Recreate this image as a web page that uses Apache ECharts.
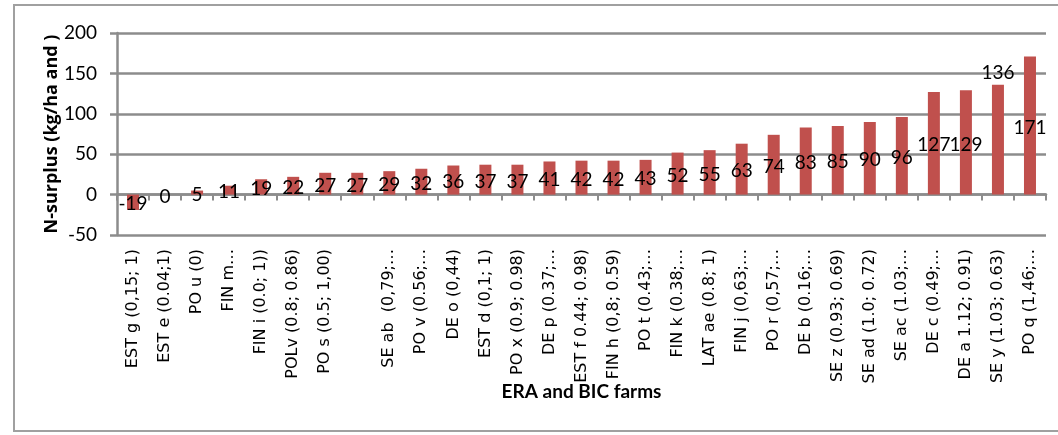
<!DOCTYPE html>
<html>
<head>
<meta charset="utf-8">
<script src="https://cdn.jsdelivr.net/npm/echarts@6/dist/echarts.min.js"></script>
<style>
  html, body { margin: 0; padding: 0; background: #fff; }
  #chart { width: 1058px; height: 435px; }
</style>
</head>
<body>
<div id="chart"></div>
<script>
// Farms (categories) in ascending order of N-surplus
const farms = [
  'EST g (0,15; 1)', 'EST e (0.04;1)', 'PO u (0)', 'FIN m…', 'FIN i (0.0; 1))',
  'POLv (0.8; 0.86)', 'PO s (0.5; 1,00)', '', 'SE ab  (0,79;…', 'PO v (0.56;…',
  'DE o (0,44)', 'EST d (0,1; 1)', 'PO x (0.9; 0.98)', 'DE p (0.37;…', 'EST f 0.44; 0.98)',
  'FIN h (0,8; 0.59)', 'PO t (0.43;…', 'FIN k (0.38;…', 'LAT ae (0.8; 1)', 'FIN j (0,63;…',
  'PO r (0,57;…', 'DE b (0.16;…', 'SE z (0.93; 0.69)', 'SE ad (1.0; 0.72)', 'SE ac (1.03;…',
  'DE c (0.49;…', 'DE a 1.12; 0.91)', 'SE y (1.03; 0.63)', 'PO q (1,46;…'
];

// N-surplus, kg/ha
const surplus = [
  -19, 0, 5, 11, 19, 22, 27, 27, 29, 32,
  36, 37, 37, 41, 42, 42, 43, 52, 55, 63,
  74, 83, 85, 90, 96, 127, 129, 136, 171
];

// Value axis ticks
const yTicks = { min: -50, max: 200, step: 50 };

// Farms whose value label sits above the bar instead of inside it
const labelAbove = ['SE y (1.03; 0.63)'];

const gridColor = '#8c8c8c';
const narrow = 'Lato, "Liberation Sans Narrow", sans-serif';

const chart = echarts.init(document.getElementById('chart'), null, { renderer: 'canvas' });

chart.setOption({
  animation: false,
  backgroundColor: '#ffffff',
  graphic: [{
    type: 'rect',
    shape: { x: 14, y: 5, width: 1060, height: 426 },
    style: { fill: 'none', stroke: '#a0a0a0', lineWidth: 2 },
    silent: true
  }],
  grid: { left: 117, right: 12, top: 33, bottom: 200, containLabel: false, outerBoundsMode: 'none' },
  xAxis: {
    type: 'category',
    data: farms,
    boundaryGap: true,
    name: 'ERA and BIC farms',
    nameLocation: 'middle',
    nameGap: 147,
    nameMoveOverlap: false,
    nameTextStyle: { fontFamily: narrow, fontWeight: 'bold', fontSize: 19, color: '#000' },
    axisLine: { onZero: true, lineStyle: { color: gridColor, width: 2.5 } },
    axisTick: { show: true, length: 6, lineStyle: { color: gridColor, width: 2 } },
    axisLabel: {
      interval: 0, rotate: 90, margin: 14,
      fontFamily: '"DejaVu Sans", sans-serif', fontSize: 16, color: '#000'
    }
  },
  yAxis: {
    type: 'value',
    min: yTicks.min, max: yTicks.max, interval: yTicks.step,
    name: 'N-surplus (kg/ha and )',
    nameLocation: 'middle',
    nameGap: 56,
    nameMoveOverlap: false,
    nameRotate: 90,
    nameTextStyle: { fontFamily: '"Open Sans", sans-serif', fontWeight: 'bold', fontSize: 18, color: '#000' },
    axisLine: { show: true, lineStyle: { color: gridColor, width: 2.5 } },
    axisTick: { show: true, length: 7, lineStyle: { color: gridColor, width: 2.5 } },
    axisLabel: { margin: 20, fontFamily: narrow, fontSize: 19, color: '#000' },
    splitLine: { show: true, lineStyle: { color: gridColor, width: 2.5 } }
  },
  series: [{
    type: 'bar',
    barWidth: 12,
    itemStyle: { color: '#c0504d' },
    label: {
      show: true, position: 'inside', offset: [0, 2],
      fontFamily: narrow, fontSize: 19, color: '#000'
    },
    data: surplus.map((v, i) => labelAbove.includes(farms[i])
      ? { value: v, label: { position: 'top', offset: [0, 0], distance: 2 } }
      : v)
  }]
});
</script>
</body>
</html>
